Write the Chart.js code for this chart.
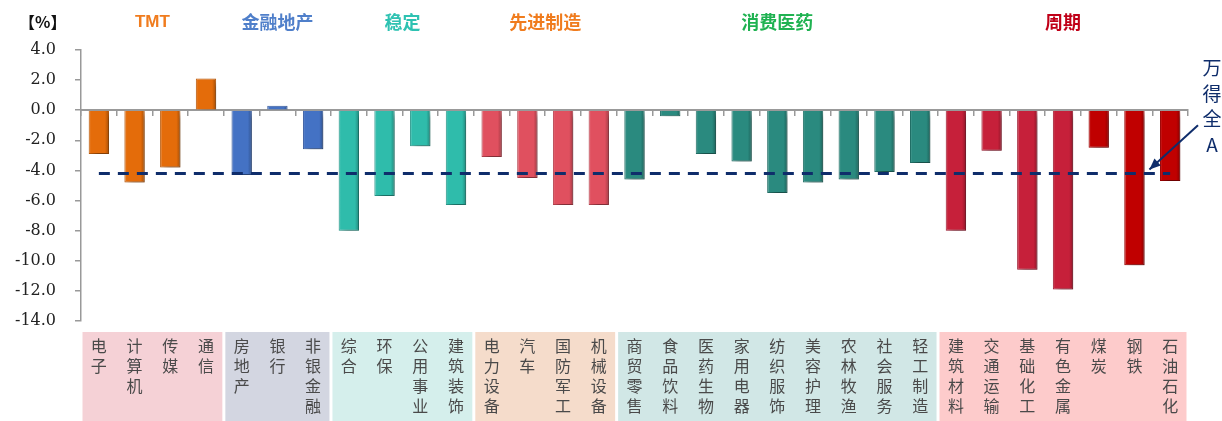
<!DOCTYPE html>
<html>
<head>
<meta charset="utf-8">
<script src="https://cdn.jsdelivr.net/npm/chart.js@4"></script>
<style>
  html, body { margin: 0; padding: 0; background: #fff; }
  #wrap { width: 1222px; height: 421px; }
</style>
</head>
<body>
<div id="wrap"><canvas id="grafico"></canvas></div>
<script>
// Datos
const categorias = ['电子','计算机','传媒','通信','房地产','银行','非银金融','综合','环保','公用事业','建筑装饰',
  '电力设备','汽车','国防军工','机械设备','商贸零售','食品饮料','医药生物','家用电器','纺织服饰','美容护理',
  '农林牧渔','社会服务','轻工制造','建筑材料','交通运输','基础化工','有色金属','煤炭','钢铁','石油石化'];
const variacion = [-2.9, -4.8, -3.8, 2.1, -4.3, 0.3, -2.6, -8.0, -5.7, -2.4, -6.3,
  -3.1, -4.5, -6.3, -6.3, -4.6, -0.4, -2.9, -3.4, -5.5, -4.8,
  -4.6, -4.1, -3.5, -8.0, -2.7, -10.6, -11.9, -2.5, -10.3, -4.7];
const wanDeQuanA = -4.2;
const grupos = ['TMT', '金融地产', '稳定', '先进制造', '消费医药', '周期'];
const grupoTamano = [4, 3, 4, 4, 9, 7];
const ejeY = { min: -14, max: 4, paso: 2 };

// Estilos
const colorGrupo = ['#e46c0a', '#4472c4', '#2fbcab', '#e0505f', '#2a8a7f', '#c6203a'];
const colorTitulo = ['#f07c1e', '#4f7fca', '#2ec2b2', '#f07c1e', '#1fb251', '#c00018'];
const fondoGrupo = ['#f5d1d6', '#d3d6e1', '#d5efec', '#f5dccb', '#d1e7e6', '#fdcbcb'];
const colorOscuro = '#c00000';
const azul = '#0f2d6b';

const barColores = [];
grupoTamano.forEach((n, g) => { for (let i = 0; i < n; i++) barColores.push(colorGrupo[g]); });
['煤炭', '钢铁', '石油石化'].forEach(c => { barColores[categorias.indexOf(c)] = colorOscuro; });

function tono(hex, f) {
  const n = parseInt(hex.slice(1), 16);
  const m = v => Math.max(0, Math.min(255, Math.round(f >= 1 ? v + (255 - v) * (f - 1) : v * f)));
  return `rgb(${m((n >> 16) & 255)},${m((n >> 8) & 255)},${m(n & 255)})`;
}

// degradado horizontal para imitar el bisel de las barras
function rellenoBarra(context) {
  const base = barColores[context.dataIndex];
  const chart = context.chart;
  const x = chart.scales && chart.scales.x;
  if (!chart.chartArea || !x) return base;
  const c = x.getPixelForValue(context.dataIndex);
  const w = (x.getPixelForValue(1) - x.getPixelForValue(0)) * 0.57;
  const g = chart.ctx.createLinearGradient(c - w / 2, 0, c + w / 2, 0);
  g.addColorStop(0, tono(base, 1.18));
  g.addColorStop(0.12, base);
  g.addColorStop(0.8, base);
  g.addColorStop(1, tono(base, 0.72));
  return g;
}

const decoracion = {
  id: 'decoracion',
  beforeDraw(chart) {
    const { ctx, chartArea } = chart;
    const x = chart.scales.x;
    const paso = x.getPixelForValue(1) - x.getPixelForValue(0);
    let ini = 0;
    ctx.save();
    grupoTamano.forEach((n, g) => {
      const izq = x.getPixelForValue(ini) - paso / 2 + 1.5;
      const der = x.getPixelForValue(ini + n - 1) + paso / 2 - 1.5;
      ctx.fillStyle = fondoGrupo[g];
      ctx.fillRect(izq, chartArea.bottom + 11, der - izq, chart.height - chartArea.bottom - 11);
      // titulo del grupo
      ctx.fillStyle = colorTitulo[g];
      ctx.font = g === 0 ? 'bold 17px "Liberation Sans", Arial' : 'bold 18px "Noto Sans CJK SC"';
      ctx.textAlign = 'center';
      ctx.textBaseline = 'middle';
      ctx.fillText(grupos[g], (izq + der) / 2, 22);
      ini += n;
    });
    ctx.fillStyle = '#111';
    ctx.font = 'bold 16px "Noto Sans CJK SC"';
    ctx.textAlign = 'left';
    ctx.fillText('【%】', 19, 22);
    ctx.restore();
  },
  beforeDatasetDraw(chart, args) {
    if (args.index !== 0) return;
    const ctx = chart.ctx;
    ctx.save();
    ctx.shadowColor = 'rgba(0,0,0,0.35)';
    ctx.shadowBlur = 6;
    ctx.shadowOffsetX = 4;
    ctx.shadowOffsetY = 4;
  },
  afterDatasetDraw(chart, args) {
    if (args.index === 0) chart.ctx.restore();
  },
  afterDraw(chart) {
    const { ctx, chartArea } = chart;
    const x = chart.scales.x, y = chart.scales.y;
    const x0 = chartArea.right + 10, y0 = y.getPixelForValue(-1.0);
    const x1 = x.getPixelForValue(categorias.length - 2) + 15, y1 = y.getPixelForValue(wanDeQuanA) - 4;
    ctx.save();
    ctx.strokeStyle = azul;
    ctx.fillStyle = azul;
    ctx.lineWidth = 2;
    ctx.beginPath();
    ctx.moveTo(x0, y0);
    ctx.lineTo(x1, y1);
    ctx.stroke();
    const ang = Math.atan2(y1 - y0, x1 - x0);
    ctx.beginPath();
    ctx.moveTo(x1, y1);
    ctx.lineTo(x1 - 12 * Math.cos(ang - 0.4), y1 - 12 * Math.sin(ang - 0.4));
    ctx.lineTo(x1 - 12 * Math.cos(ang + 0.4), y1 - 12 * Math.sin(ang + 0.4));
    ctx.closePath();
    ctx.fill();
    ctx.font = '19px "Noto Sans CJK SC"';
    ctx.textAlign = 'center';
    ctx.textBaseline = 'middle';
    ['万', '得', '全', 'A'].forEach((c, i) => ctx.fillText(c, 1212, 68 + i * 25.5));
    ctx.restore();
  }
};

const ctx = document.getElementById('grafico').getContext('2d');
window.grafico = new Chart(ctx, {
  type: 'bar',
  data: {
    labels: categorias,
    datasets: [{
      label: '行业涨跌幅',
      data: variacion,
      backgroundColor: rellenoBarra,
      borderColor: barColores.map(c => tono(c, 0.82)),
      borderWidth: 1,
      categoryPercentage: 1,
      barPercentage: 0.57,
      order: 2
    }, {
      type: 'line',
      label: '万得全A',
      data: [{ x: categorias[0], y: wanDeQuanA }, { x: categorias[categorias.length - 1], y: wanDeQuanA }],
      borderColor: azul,
      borderWidth: 3,
      borderDash: [11, 8],
      pointRadius: 0,
      fill: false,
      order: 1
    }]
  },
  options: {
    responsive: true,
    maintainAspectRatio: false,
    animation: false,
    layout: { padding: { top: 50, right: 34, left: 0, bottom: 0 } },
    plugins: { legend: { display: false }, tooltip: { enabled: false } },
    scales: {
      x: {
        type: 'category',
        position: { y: 0 },
        offset: true,
        ticks: { display: false },
        grid: { offset: true, drawOnChartArea: false, drawTicks: true, tickLength: 5, color: '#999', lineWidth: 1.5 },
        border: { color: '#999', width: 2 }
      },
      x2: {
        type: 'category',
        position: 'bottom',
        labels: categorias.map(c => c.split('')),
        offset: true,
        grid: { display: false, drawTicks: false },
        border: { display: false },
        ticks: {
          autoSkip: false,
          maxRotation: 0,
          padding: 15,
          color: '#4a4a4a',
          font: { family: '"Noto Sans CJK SC"', size: 16, lineHeight: 1.25 }
        },
        afterFit(scale) { scale.height = 100; }
      },
      y: {
        min: ejeY.min,
        max: ejeY.max,
        ticks: {
          stepSize: ejeY.paso,
          padding: 19,
          color: '#222',
          font: { family: '"DejaVu Serif"', size: 16 },
          callback: v => v.toFixed(1)
        },
        grid: { drawOnChartArea: false, tickLength: 6, color: '#999', lineWidth: 1.5 },
        border: { color: '#999', width: 1.5 },
        afterFit(scale) { scale.width = 81; }
      }
    }
  },
  plugins: [decoracion]
});
</script>
</body>
</html>
